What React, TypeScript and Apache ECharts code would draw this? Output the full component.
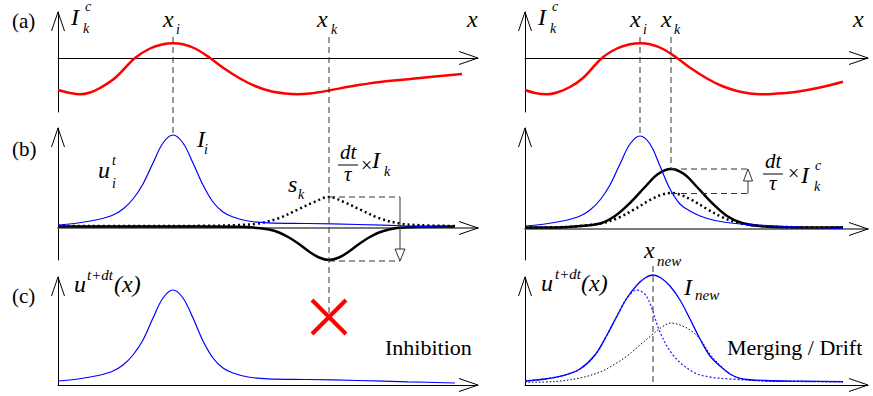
import React, { useEffect, useRef } from "react";
import * as echarts from "echarts";

// ---------- data (x in axis units, y in axis units) ----------
// (a) competition input I_k^c, left column
const redLeftX = [0, 1.2, 2.2, 3.2, 4.2, 5.7, 7.7, 9.2, 10.5, 11.5, 12.5, 13.8, 15.2, 16.7, 18.2, 19.7, 21.2, 22.7, 23.9, 25.2, 27.1, 29.2, 32.2, 35.2, 38.2, 40.4];
const redLeftY = [-3.2, -3.5, -3.63, -3.45, -3.0, -2.0, 0, 0.95, 1.37, 1.47, 1.37, 0.9, 0, -1.1, -2.05, -2.8, -3.3, -3.55, -3.63, -3.55, -3.25, -2.85, -2.4, -2.1, -1.8, -1.6];
// (a) right column
const redRightX = [0, 1.0, 2.2, 3.2, 4.5, 5.8, 7.7, 9.2, 10.5, 11.5, 12.5, 13.8, 15.2, 16.7, 18.2, 19.7, 21.2, 22.5, 23.5, 25.0, 27.2, 29.5, 31.8];
const redRightY = [-3.2, -3.5, -3.63, -3.45, -2.9, -2.0, 0, 0.95, 1.37, 1.47, 1.37, 0.9, 0, -1.1, -2.05, -2.8, -3.3, -3.55, -3.63, -3.57, -3.37, -2.95, -2.37];

// (b) left: u_i^t (blue), s_k (dotted), update (solid black)
const blueBLeftX = [0, 2, 4, 5.5, 6.5, 7.5, 8.5, 9.5, 10.5, 11.5, 12.5, 13.5, 14.5, 15.5, 16.5, 17.5, 19, 21, 25, 30, 35, 39.7];
const blueBLeftY = [0.3, 0.5, 0.85, 1.3, 1.9, 2.9, 4.4, 6.5, 8.5, 9.3, 8.5, 6.5, 4.3, 2.6, 1.6, 1.1, 0.7, 0.52, 0.45, 0.35, 0.2, 0.05];
const skLeftX = [0, 8, 15, 18, 20, 22, 24, 25.5, 27.1, 28.7, 30.2, 32.2, 34.2, 36.2, 39.7];
const skLeftY = [0.2, 0.2, 0.22, 0.3, 0.45, 0.95, 1.85, 2.55, 3.1, 2.55, 1.85, 0.95, 0.45, 0.28, 0.2];
const ikLeftX = [0, 10, 18, 20, 21.1, 22.1, 23.1, 24.1, 25.1, 26.1, 27.1, 28.1, 29.1, 30.1, 31.1, 32.1, 33.1, 34.1, 36, 39.7];
const ikLeftY = [0.15, 0.15, 0.12, 0.0, -0.15, -0.45, -0.95, -1.6, -2.35, -2.95, -3.2, -2.95, -2.35, -1.6, -0.95, -0.45, -0.15, 0.02, 0.12, 0.15];

// (c) left: u^{t+dt}
const blueCLeftY = [0.4, 0.6, 0.95, 1.4, 2.0, 3.0, 4.5, 6.7, 8.7, 9.5, 8.7, 6.7, 4.4, 2.7, 1.7, 1.2, 0.8, 0.62, 0.55, 0.45, 0.32, 0.2];

// (b) right
const blueBRightX = [0, 2, 4, 5.5, 6.5, 7.5, 8.5, 9.5, 10.5, 11.5, 12.5, 13.5, 14.5, 15.5, 16.5, 17.5, 19, 21, 25, 31.8];
const blueBRightY = [0.3, 0.5, 0.85, 1.3, 1.9, 2.9, 4.4, 6.5, 8.5, 9.3, 8.5, 6.3, 4.0, 2.5, 1.8, 1.3, 0.85, 0.55, 0.3, 0.05];
const skRightX = [0, 4, 6, 8, 9.5, 11, 12.5, 13.6, 14.6, 15.6, 16.7, 18.2, 19.7, 21.2, 23, 26, 31.8];
const skRightY = [0.15, 0.2, 0.35, 0.65, 1.2, 2.0, 2.9, 3.4, 3.6, 3.4, 2.9, 2.0, 1.2, 0.65, 0.35, 0.2, 0.15];
const ikRightX = [0, 3, 5, 7.5, 9, 10.5, 12, 13.3, 14.6, 15.9, 17.2, 18.7, 20.2, 21.7, 23.5, 26, 31.8];
const ikRightY = [0.15, 0.15, 0.25, 0.55, 1.3, 2.6, 4.2, 5.5, 6.0, 5.5, 4.2, 2.6, 1.3, 0.6, 0.3, 0.17, 0.15];

// (c) right
const blueCRightX = [0, 2, 4, 5.5, 7, 8.2, 9.2, 10.2, 11.2, 12, 12.8, 13.6, 14.5, 15.5, 16.5, 17.5, 18.5, 19.5, 20.5, 21.5, 24, 28, 31.8];
const blueCRightY = [0.4, 0.6, 1.0, 1.6, 3.0, 5.0, 6.9, 8.7, 10.0, 10.7, 11.0, 10.7, 9.9, 8.5, 6.6, 4.6, 2.9, 1.9, 1.1, 0.67, 0.45, 0.38, 0.33];
const oldUiRightX = [0, 2, 4, 5.5, 7, 8.2, 9.2, 10.2, 11.2, 12.2, 13.5, 14.8, 16.8, 18.5, 20.5, 24, 28, 31.8];
const oldUiRightY = [0.4, 0.6, 1.0, 1.6, 3.0, 5.0, 6.9, 8.7, 9.5, 8.8, 5.3, 3.0, 1.3, 0.8, 0.6, 0.4, 0.35, 0.3];
const ikCRightX = [0, 3, 5.5, 7.5, 9, 10.2, 11.5, 12.8, 13.7, 14.6, 15.5, 16.5, 17.5, 18.5, 19.5, 20.5, 21.7, 23, 26, 31.8];
const ikCRightY = [0.27, 0.35, 0.7, 1.3, 2.1, 2.9, 4.0, 5.1, 5.8, 6.2, 6.0, 5.5, 4.6, 3.1, 2.0, 1.1, 0.6, 0.45, 0.35, 0.33];

// marker positions (axis units)
const xiPos = 11.5;
const xkLeft = 27.1;
const xkRight = 14.6;
const xNewPos = 12.8;
const boxLeft = [27.1, 34.2, 3.1, -3.3]; // x0, x1, top, bottom
const boxRight = [14.6, 22.3, 6.0, 3.55];
const crossLeft = [27.1, 6.8];

const W = 873;
const H = 396;
const SERIF = "Liberation Serif";

const zip = (xs: number[], ys: number[]) => xs.map((x, i) => [x, ys[i]]);

const gridBoxes = [
  { left: 58, top: 12, width: 420, height: 100 },
  { left: 58, top: 128, width: 420, height: 132 },
  { left: 58, top: 277, width: 420, height: 108 },
  { left: 525, top: 12, width: 343, height: 100 },
  { left: 525, top: 128, width: 343, height: 132 },
  { left: 525, top: 277, width: 343, height: 108 },
];
const yRanges = [[-5.4, 4.6], [-3.2, 10], [0, 10.8], [-5.4, 4.6], [-3.1, 10.1], [0, 10.8]];
const xMax = [42, 42, 42, 34.3, 34.3, 34.3];

function line(g: number, data: number[][], color: string, width: number, type: any = "solid", z = 2) {
  return {
    type: "line",
    xAxisIndex: g,
    yAxisIndex: g,
    data,
    showSymbol: false,
    smooth: 0.35,
    clip: false,
    silent: true,
    z,
    lineStyle: { color, width, type, cap: "butt" },
  };
}

// text label as a title component, placed by left edge x and baseline B
function tx(x: number, B: number, text: string, fs: number, italic = true) {
  return {
    text,
    left: x,
    top: B - 0.84 * fs,
    padding: 0,
    z: 20,
    textStyle: {
      fontFamily: SERIF,
      fontSize: fs,
      fontStyle: italic ? "italic" : "normal",
      fontWeight: "normal",
      color: "#000",
    },
  };
}

const labels = [
  // left column
  tx(12, 28, "(a)", 21, false),
  tx(12, 156, "(b)", 21, false),
  tx(12, 303, "(c)", 21, false),
  tx(71, 25, "I", 24), tx(83, 33, "k", 14), tx(85, 11, "c", 14),
  tx(163, 27, "x", 24), tx(176, 34, "i", 14),
  tx(317, 27, "x", 24), tx(331, 34, "k", 14),
  tx(467, 27, "x", 24),
  tx(98, 178, "u", 24), tx(112, 165, "t", 14), tx(112, 188, "i", 14),
  tx(197, 147, "I", 24), tx(204, 154, "i", 14),
  tx(288, 192, "s", 24), tx(298, 199, "k", 14),
  tx(340, 159, "dt", 21), tx(344, 181, "τ", 21),
  tx(361, 172, "×", 20, false),
  tx(372, 168, "I", 24), tx(384, 176, "k", 14),
  tx(74, 292, "u", 24), tx(87, 280, "t+dt", 15), tx(114, 292, "(x)", 24),
  tx(385, 355, "Inhibition", 22, false),
  // right column
  tx(538, 25, "I", 24), tx(550, 33, "k", 14), tx(552, 11, "c", 14),
  tx(630, 27, "x", 24), tx(643, 34, "i", 14),
  tx(661, 27, "x", 24), tx(674, 34, "k", 14),
  tx(853, 27, "x", 24),
  tx(765, 168, "dt", 21), tx(769, 190, "τ", 21),
  tx(788, 180, "×", 20, false),
  tx(801, 183, "I", 24), tx(815, 170, "c", 14), tx(814, 191, "k", 14),
  tx(644, 258, "x", 24), tx(657, 266, "new", 15),
  tx(541, 291, "u", 24), tx(555, 279, "t+dt", 15), tx(581, 291, "(x)", 24),
  tx(684, 295, "I", 24), tx(695, 300, "new", 15),
  tx(727, 355, "Merging / Drift", 22, false),
];

export default function App() {
  const ref = useRef<HTMLDivElement>(null);
  useEffect(() => {
    const chart = echarts.init(ref.current!, null, { renderer: "svg", width: W, height: H });
    const option: any = {
      animation: false,
      backgroundColor: "#fff",
      title: labels,
      grid: gridBoxes.map((b) => ({ ...b, containLabel: false })),
      xAxis: gridBoxes.map((_, i) => ({
        type: "value",
        gridIndex: i,
        min: 0,
        max: xMax[i],
        axisLine: {
          show: true,
          onZero: true,
          lineStyle: { color: i === 1 || i === 4 ? "#7a7a7a" : "#000", width: i === 1 || i === 4 ? 2 : 1 },
        },
        axisTick: { show: false },
        axisLabel: { show: false },
        splitLine: { show: false },
      })),
      yAxis: gridBoxes.map((_, i) => ({
        type: "value",
        gridIndex: i,
        min: yRanges[i][0],
        max: yRanges[i][1],
        axisLine: { show: true, onZero: true, lineStyle: { color: "#000", width: 1 } },
        axisTick: { show: false },
        axisLabel: { show: false },
        splitLine: { show: false },
      })),
      series: [
        line(0, zip(redLeftX, redLeftY), "#ff0000", 2.5),
        line(3, zip(redRightX, redRightY), "#ff0000", 2.5),
        line(1, zip(ikLeftX, ikLeftY), "#000", 2.5),
        line(1, zip(skLeftX, skLeftY), "#000", 2.5, [2, 3]),
        line(1, zip(blueBLeftX, blueBLeftY), "#0000ff", 1.2),
        line(2, zip(blueBLeftX, blueCLeftY), "#0000ff", 1.2),
        line(4, zip(ikRightX, ikRightY), "#000", 2.5),
        line(4, zip(skRightX, skRightY), "#000", 2.5, [2, 3]),
        line(4, zip(blueBRightX, blueBRightY), "#0000ff", 1.2),
        line(5, zip(oldUiRightX, oldUiRightY), "#2a2aff", 1.3, [2, 2], 1),
        line(5, zip(ikCRightX, ikCRightY), "#000", 1, [1.5, 2]),
        line(5, zip(blueCRightX, blueCRightY), "#0000ff", 1.3, "solid", 3),
      ],
    };
    chart.setOption(option);

    const p = (g: number, x: number, y: number) => chart.convertToPixel({ gridIndex: g } as any, [x, y]) as number[];
    const dash = { stroke: "#333", lineWidth: 1, lineDash: [6, 4], fill: "none" };
    const dl = (a: number[], b: number[]) => ({ type: "line", silent: true, z: 10, shape: { x1: a[0], y1: a[1], x2: b[0], y2: b[1] }, style: dash });
    const solid = (a: number[], b: number[], c = "#333") => ({ type: "line", silent: true, z: 10, shape: { x1: a[0], y1: a[1], x2: b[0], y2: b[1] }, style: { stroke: c, lineWidth: 1 } });
    const g: any[] = [];

    // axis arrowheads
    for (let i = 0; i < 6; i++) {
      const xe = p(i, xMax[i], 0);
      const ye = p(i, 0, yRanges[i][1]);
      g.push({ type: "polyline", silent: true, z: 10, shape: { points: [[xe[0] - 19, xe[1] - 6.5], [xe[0], xe[1]], [xe[0] - 19, xe[1] + 6.5]] }, style: { stroke: "#000", lineWidth: 1, fill: "none" } });
      g.push({ type: "polyline", silent: true, z: 10, shape: { points: [[ye[0] - 6.5, ye[1] + 19], [ye[0], ye[1]], [ye[0] + 6.5, ye[1] + 19]] }, style: { stroke: "#000", lineWidth: 1, fill: "none" } });
    }

    // dashed guide lines
    g.push(dl(p(0, xiPos, 2.1), p(1, xiPos, 9.3)));
    g.push(dl(p(0, xkLeft, 2.1), p(2, crossLeft[0], crossLeft[1])));
    g.push(dl(p(3, xiPos, 2.1), p(4, xiPos, 9.3)));
    g.push(dl(p(3, xkRight, 2.1), p(4, xkRight, boxRight[2])));
    g.push(dl(p(5, xNewPos, 11.9), p(5, xNewPos, 0)));

    // fraction bars
    g.push(solid([338, 165], [358, 165], "#000"));
    g.push(solid([763, 174], [783, 174], "#000"));

    // left box + down arrow
    {
      const [x0, x1, top, bot] = boxLeft;
      g.push(dl(p(1, x0, top), p(1, x1, top)));
      g.push(dl(p(1, x0, bot), p(1, x1, bot)));
      const a = p(1, x1, top);
      const tip = p(1, x1, bot);
      g.push(solid(a, [tip[0], tip[1] - 12]));
      g.push({ type: "polygon", silent: true, z: 11, shape: { points: [[tip[0] - 5, tip[1] - 12], [tip[0] + 5, tip[1] - 12], [tip[0], tip[1]]] }, style: { fill: "#fff", stroke: "#333", lineWidth: 1 } });
    }
    // right box + up arrow
    {
      const [x0, x1, top, bot] = boxRight;
      g.push(dl(p(4, x0, top), p(4, x1, top)));
      g.push(dl(p(4, x0, bot), p(4, x1, bot)));
      const b = p(4, x1, bot);
      const tip = p(4, x1, top);
      g.push(solid(b, [tip[0], tip[1] + 12]));
      g.push({ type: "polygon", silent: true, z: 11, shape: { points: [[tip[0] - 4.5, tip[1] + 12], [tip[0] + 4.5, tip[1] + 12], [tip[0], tip[1]]] }, style: { fill: "#fff", stroke: "#333", lineWidth: 1 } });
    }

    // red cross
    {
      const c = p(2, crossLeft[0], crossLeft[1]);
      const s = 17;
      const st = { stroke: "#ff0000", lineWidth: 4 };
      g.push({ type: "line", silent: true, z: 20, shape: { x1: c[0] - s, y1: c[1] - s, x2: c[0] + s, y2: c[1] + s }, style: st });
      g.push({ type: "line", silent: true, z: 20, shape: { x1: c[0] - s, y1: c[1] + s, x2: c[0] + s, y2: c[1] - s }, style: st });
    }

    chart.setOption({ graphic: { elements: g } });
    return () => chart.dispose();
  }, []);
  return <div ref={ref} style={{ position: "absolute", left: 0, top: 0, width: W, height: H, background: "#fff" }} />;
}
